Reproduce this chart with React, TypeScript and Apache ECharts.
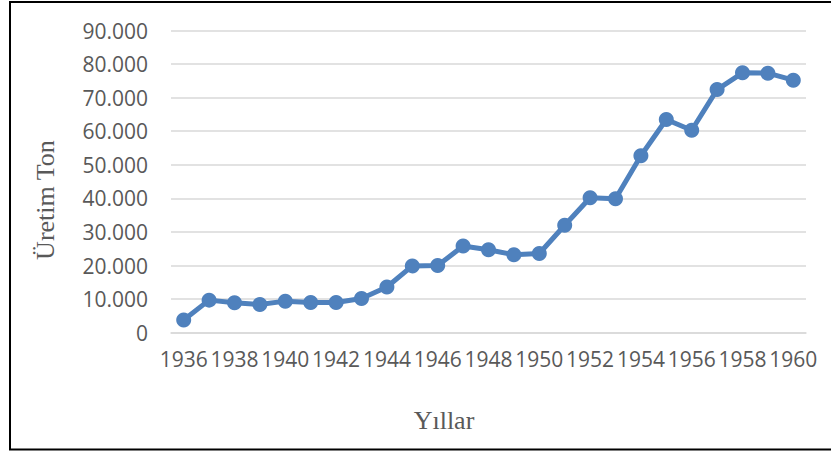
import React, { useEffect, useRef } from "react";
import * as echarts from "echarts";

const years: string[] = [
  "1936", "1937", "1938", "1939", "1940", "1941", "1942", "1943", "1944", "1945",
  "1946", "1947", "1948", "1949", "1950", "1951", "1952", "1953", "1954", "1955",
  "1956", "1957", "1958", "1959", "1960",
];

const production: number[] = [
  3800, 9700, 8900, 8400, 9400, 9000, 9000, 10200, 13600, 19900,
  20000, 25800, 24700, 23200, 23600, 32000, 40200, 39900, 52700, 63500,
  60300, 72400, 77400, 77300, 75200,
];

const yTicks = { min: 0, max: 90000, interval: 10000 };

const yTitle = "Üretim Ton";
const xTitle = "Yıllar";

function formatTr(v: number): string {
  const s = Math.round(v).toString();
  return s.replace(/\B(?=(\d{3})+(?!\d))/g, ".");
}

export default function App() {
  const ref = useRef<HTMLDivElement>(null);

  useEffect(() => {
    if (!ref.current) return;
    const chart = echarts.init(ref.current, undefined, { renderer: "svg" });
    const labelFont = "'Open Sans', 'Noto Sans', sans-serif";
    const serif = "'Liberation Serif', 'DejaVu Serif', serif";
    chart.setOption({
      animation: false,
      backgroundColor: "#ffffff",
      grid: { left: 171, right: 25, top: 30.5, bottom: 119.3, containLabel: false },
      xAxis: {
        type: "category",
        data: years,
        boundaryGap: true,
        axisLine: { show: true, lineStyle: { color: "#d9d9d9", width: 1.5 } },
        axisTick: { show: false },
        axisLabel: {
          interval: 1,
          color: "#595959",
          fontFamily: labelFont,
          fontSize: 21,
          margin: 16,
        },
      },
      yAxis: {
        type: "value",
        min: yTicks.min,
        max: yTicks.max,
        interval: yTicks.interval,
        axisLine: { show: false },
        axisTick: { show: false },
        splitLine: { show: true, lineStyle: { color: "#d9d9d9", width: 1.5 } },
        axisLabel: {
          color: "#595959",
          fontFamily: labelFont,
          fontSize: 21,
          margin: 23,
          formatter: (v: number) => formatTr(v),
        },
      },
      series: [
        {
          type: "line",
          data: production,
          symbol: "circle",
          symbolSize: 15,
          showSymbol: true,
          lineStyle: { color: "#4f81bd", width: 5 },
          itemStyle: { color: "#4f81bd" },
        },
      ],
      graphic: [
        {
          type: "rect",
          shape: { x: 10, y: 2, width: 840, height: 447.5 },
          style: { fill: "none", stroke: "#000000", lineWidth: 2 },
          silent: true,
        },
        {
          type: "text",
          x: 45,
          y: 200,
          rotation: Math.PI / 2,
          style: {
            text: yTitle,
            font: `26px ${serif}`,
            fill: "#595959",
            align: "center",
            verticalAlign: "middle",
          },
        },
        {
          type: "text",
          x: 444,
          y: 420,
          style: {
            text: xTitle,
            font: `26px ${serif}`,
            fill: "#595959",
            align: "center",
            verticalAlign: "middle",
          },
        },
      ],
    });
    return () => chart.dispose();
  }, []);

  return (
    <div
      ref={ref}
      style={{ position: "absolute", left: 0, top: 0, width: 831, height: 452, background: "#fff" }}
    />
  );
}
